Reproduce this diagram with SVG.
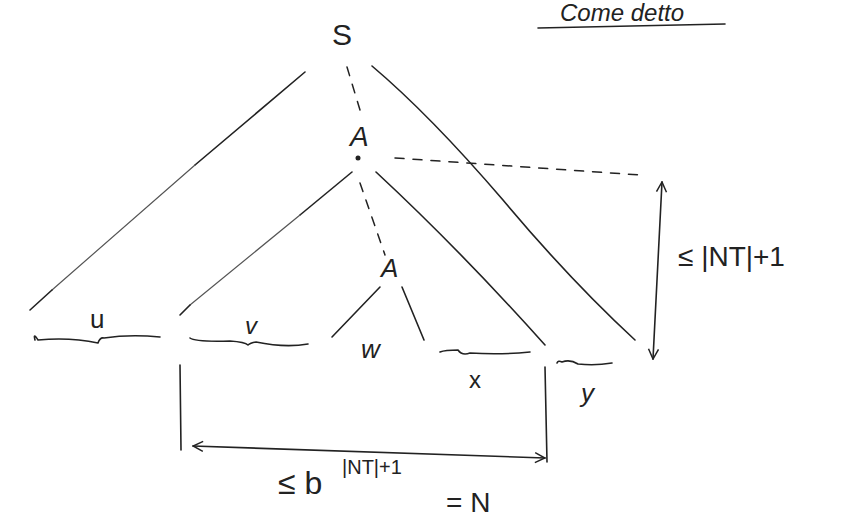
<svg xmlns="http://www.w3.org/2000/svg" width="850" height="527" viewBox="0 0 850 527">
<style>
.ln{fill:none;stroke:#222;stroke-width:1.6;stroke-linecap:round;stroke-linejoin:round}
.lt{fill:none;stroke:#555;stroke-width:1.2;stroke-linecap:round}
.ds{fill:none;stroke:#222;stroke-width:1.5;stroke-dasharray:9 9;stroke-linecap:round}
.t{font-family:"Liberation Sans",Arial,sans-serif;font-style:italic;fill:#222}
.s{font-family:"Liberation Sans",Arial,sans-serif;fill:#222}
</style>
<defs>
<marker id="ah" viewBox="0 0 12 12" refX="11" refY="6" markerWidth="12" markerHeight="12" markerUnits="userSpaceOnUse" orient="auto-start-reverse">
<path d="M1,1 L11,6 L1,11" fill="none" stroke="#222" stroke-width="1.5"/>
</marker>
</defs>
<rect width="850" height="527" fill="#fff"/>
<g id="title">
<text class="t" x="560" y="21" font-size="24">Come detto</text>
<path class="ln" d="M538,28 L725,24"/>
</g>
<g id="node-S"><text class="s" x="332" y="45" font-size="30">S</text></g>
<g id="node-A1"><text class="t" x="350" y="146" font-size="28">A</text><circle cx="358" cy="158" r="2.5" fill="#222"/></g>
<g id="node-A2"><text class="t" x="381" y="277" font-size="26">A</text></g>
<g id="leaves">
<path class="ln" d="M35,340 Q33,332 38,340 Q70,337 98,343 Q100,337 104,338 Q130,334 160,337"/>
<text class="s" x="90" y="328" font-size="26">u</text>
<path class="ln" d="M190,338 Q195,342 230,341 Q245,342 248,345 Q250,343 256,342 Q285,348 308,344"/>
<text class="t" x="245" y="334" font-size="24">v</text>
<text class="t" x="361" y="358" font-size="26">w</text>
<path class="ln" d="M440,352 Q445,350 458,350 Q462,356 470,353 Q500,355 530,352"/>
<text class="s" x="469" y="388" font-size="24">x</text>
<path class="ln" d="M557,363 Q558,360 562,362 Q570,359 578,364 Q595,366 612,363"/>
<text class="t" x="581" y="402" font-size="26">y</text>
</g>
<g id="connectors">
<path class="ln" d="M305,72 L195,165"/>
<path class="lt" d="M195,165 L52,290"/>
<path class="ln" d="M52,290 L30,310"/>
<path class="ln" d="M372,66 Q430,115 503,200 Q570,280 635,340"/>
<path class="ds" d="M347,67 L360,110"/>
<path class="ds" d="M395,158 L640,175"/>
<path class="ln" d="M352,172 L300,215"/>
<path class="lt" d="M300,215 L190,305"/>
<path class="ln" d="M190,305 L180,315"/>
<path class="ln" d="M376,172 Q460,250 545,345"/>
<path class="ds" d="M360,183 L385,255" stroke-dasharray="7 8"/>
<path class="ln" d="M380,287 L332,337"/>
<path class="ln" d="M402,287 L424,340"/>
<path class="ln" d="M180,365 L181,450"/>
<path class="ln" d="M545,367 L547,462"/>
<path class="ln" d="M662,182 L653,359" marker-start="url(#ah)" marker-end="url(#ah)"/>
<path class="ln" d="M193,446 L545,458" marker-start="url(#ah)" marker-end="url(#ah)"/>
</g>
<g id="labels">
<text class="s" x="678" y="266" font-size="28">≤ |NT|+1</text>
<text class="s" x="278" y="494" font-size="32">≤ b</text>
<text class="s" x="342" y="474" font-size="20">|NT|+1</text>
<text class="s" x="446" y="512" font-size="28">= N</text>
</g>
</svg>
